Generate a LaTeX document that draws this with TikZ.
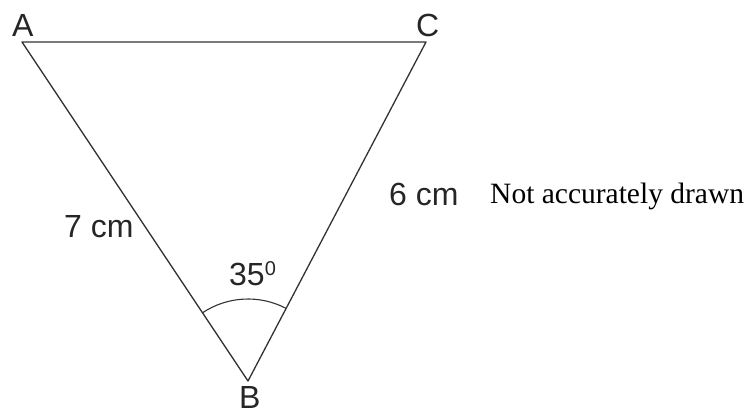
\documentclass[tikz,border=0pt]{standalone}
\usepackage{fontspec}
\setmainfont{Liberation Serif}
\newfontfamily\lblfont{Liberation Sans}
\begin{document}
\begin{tikzpicture}[x=1pt,y=-1pt,
  edge/.style={draw=black!80, line width=1.3pt},
  lbl/.style={font=\lblfont\fontsize{32}{36}\selectfont, text=black!85, anchor=base west, inner sep=0pt},
  note/.style={font=\fontsize{29.5}{34}\selectfont, anchor=base west, inner sep=0pt}]
\useasboundingbox (0,0) rectangle (747,417);
\coordinate (A) at (22,42);
\coordinate (C) at (426,42);
\coordinate (B) at (248,381);
\draw[edge, line join=round] (A) -- (C) -- (B) -- cycle;
\draw[edge, line width=1.1pt] ([shift={(-123.7:82)}]B) arc[start angle=-123.7, end angle=-62.3, radius=82];
\node[lbl] (la) at (12,37) {A};
\node[lbl] (lc) at (416,37) {C};
\node[lbl] (lb) at (239,408) {B};
\node[lbl] (l35) at (229,285) {35$^{\mbox{\lblfont\fontsize{20}{24}\selectfont 0}}$};
\node[lbl] (l7) at (64,237) {7 cm};
\node[lbl] (l6) at (389,205) {6 cm};
\node[note] (nt) at (490,203) {Not accurately drawn};
\end{tikzpicture}
\end{document}
